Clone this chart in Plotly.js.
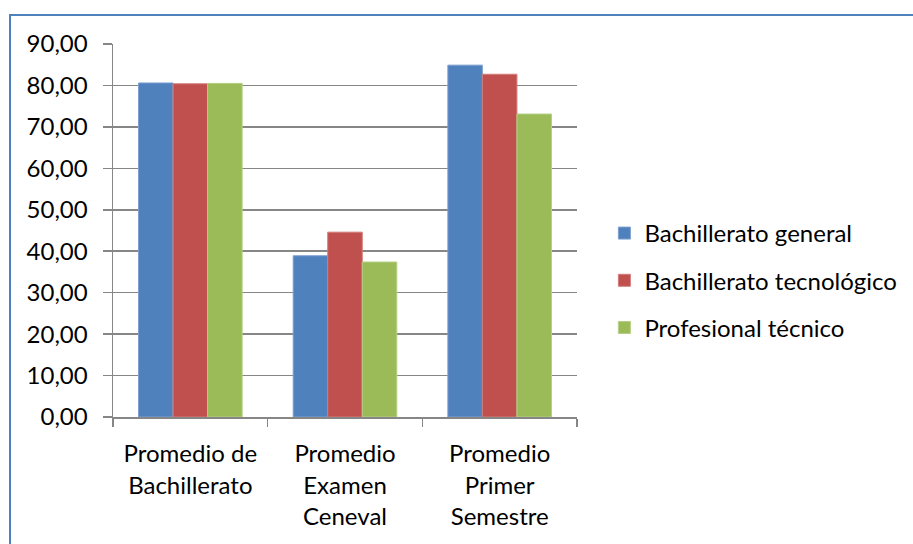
<!DOCTYPE html>
<html>
<head>
<meta charset="utf-8">
<script src="https://cdn.plot.ly/plotly-3.0.1.min.js"></script>
<style>
html,body{margin:0;padding:0;overflow:hidden;background:#fff;}
#chart{width:913px;height:544px;}
#frame{position:absolute;left:9px;top:14px;width:1200px;height:1200px;border:2px solid #4F81BD;pointer-events:none;}
</style>
</head>
<body>
<div id="chart"></div>
<div id="frame"></div>
<script>
const categories = ["Promedio de<br>Bachillerato", "Promedio<br>Examen<br>Ceneval", "Promedio<br>Primer<br>Semestre"];
const seriesNames = ["Bachillerato general", "Bachillerato tecnológico", "Profesional técnico"];
const bachilleratoGeneral = [80.6, 38.9, 84.9];
const bachilleratoTecnologico = [80.4, 44.6, 82.7];
const profesionalTecnico = [80.5, 37.4, 73.1];
const yTickVals = [0, 10, 20, 30, 40, 50, 60, 70, 80, 90];
const yTickText = ["0,00", "10,00", "20,00", "30,00", "40,00", "50,00", "60,00", "70,00", "80,00", "90,00"];

const colors = ["#4F81BD", "#C0504D", "#9BBB59"];
const lines = ["#7E9FD0", "#D27C7A", "#B5CF85"];
const values = [bachilleratoGeneral, bachilleratoTecnologico, profesionalTecnico];

const FONT = "Lato, 'Liberation Sans', sans-serif";

const traces = values.map((v, i) => ({
  type: "bar",
  name: seriesNames[i],
  x: categories,
  y: v,
  legendgroup: "g" + i,
  marker: {color: colors[i], line: {color: lines[i], width: 1}},
  hoverinfo: "y+name"
}));

const layout = {
  width: 913,
  height: 544,
  margin: {l: 113, r: 336, t: 44, b: 127, autoexpand: false},
  paper_bgcolor: "#ffffff",
  plot_bgcolor: "#ffffff",
  font: {family: FONT, size: 24, color: "#000000"},
  barmode: "group",
  bargap: 0.33,
  bargroupgap: 0,
  showlegend: true,
  legend: {
    x: 1.059, y: 0.366, xanchor: "left", yanchor: "middle",
    font: {family: FONT, size: 24, color: "#000000"},
    traceorder: "grouped",
    tracegroupgap: 13,
    itemwidth: 30
  },
  xaxis: {
    type: "category",
    showline: true, linecolor: "#868686", linewidth: 1.5,
    ticks: "outside", tickson: "boundaries", ticklen: 8, tickcolor: "#868686", tickwidth: 1.5,
    showgrid: false, zeroline: false,
    ticklabelstandoff: 15,
    tickfont: {family: FONT, size: 24, color: "#000000"}
  },
  yaxis: {
    range: [0, 90],
    tickvals: yTickVals,
    ticktext: yTickText,
    showline: true, linecolor: "#868686", linewidth: 1.5,
    ticks: "outside", ticklen: 9, tickcolor: "#868686", tickwidth: 1.5,
    showgrid: true, gridcolor: "#868686", gridwidth: 1.5,
    zeroline: false,
    ticklabelstandoff: 10,
    tickfont: {family: FONT, size: 24, color: "#000000"}
  }
};

Plotly.newPlot("chart", traces, layout, {displayModeBar: false, staticPlot: true});
</script>
</body>
</html>
